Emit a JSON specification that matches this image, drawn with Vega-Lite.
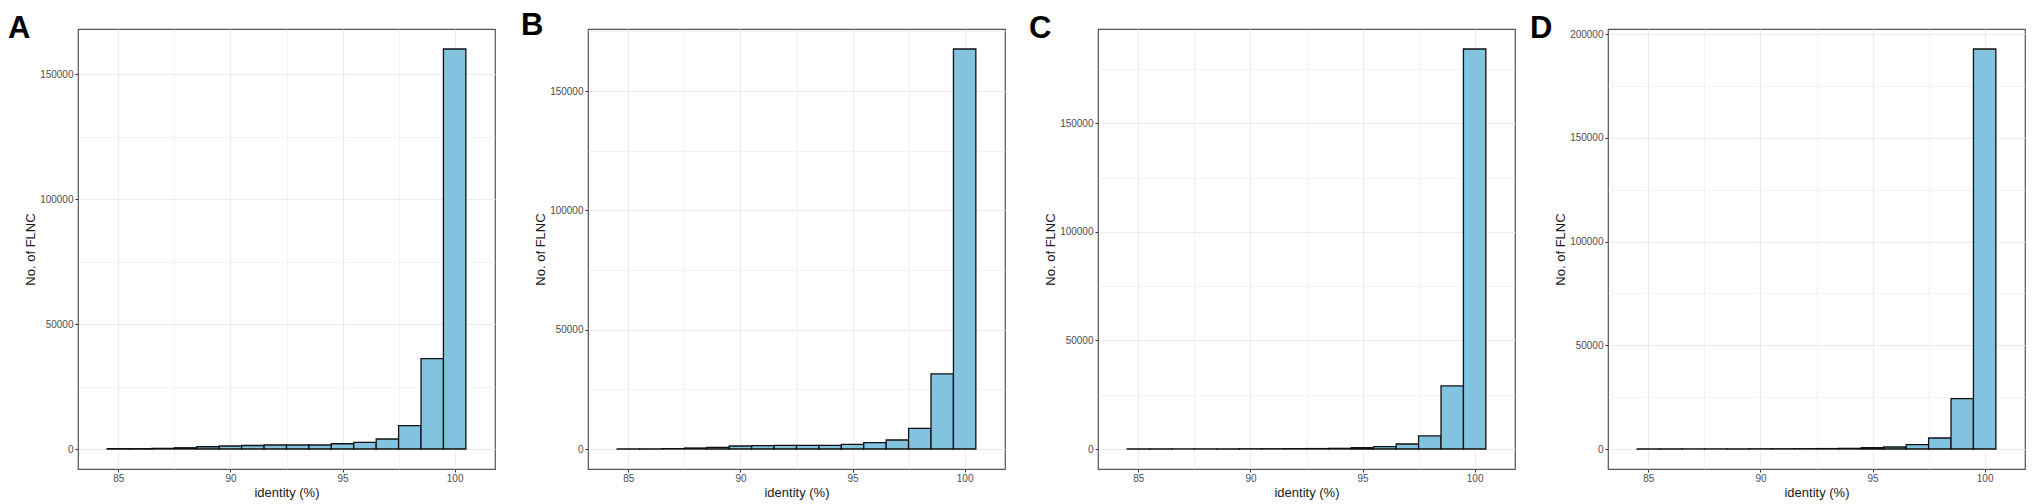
{
  "$schema": "https://vega.github.io/schema/vega-lite/v6.json",
  "background": "white",
  "padding": {"left": 7, "top": 9, "right": 3, "bottom": 5},
  "bounds": "flush",
  "spacing": 93,
  "datasets": {
    "A": [
      {"lo": 84.5, "hi": 85.5, "n": 100},
      {"lo": 85.5, "hi": 86.5, "n": 120},
      {"lo": 86.5, "hi": 87.5, "n": 250},
      {"lo": 87.5, "hi": 88.5, "n": 500},
      {"lo": 88.5, "hi": 89.5, "n": 900},
      {"lo": 89.5, "hi": 90.5, "n": 1200},
      {"lo": 90.5, "hi": 91.5, "n": 1400},
      {"lo": 91.5, "hi": 92.5, "n": 1600},
      {"lo": 92.5, "hi": 93.5, "n": 1600},
      {"lo": 93.5, "hi": 94.5, "n": 1600},
      {"lo": 94.5, "hi": 95.5, "n": 2100},
      {"lo": 95.5, "hi": 96.5, "n": 2650},
      {"lo": 96.5, "hi": 97.5, "n": 4000},
      {"lo": 97.5, "hi": 98.5, "n": 9350},
      {"lo": 98.5, "hi": 99.5, "n": 36200},
      {"lo": 99.5, "hi": 100.5, "n": 160100}
    ],
    "B": [
      {"lo": 84.5, "hi": 85.5, "n": 60},
      {"lo": 85.5, "hi": 86.5, "n": 80},
      {"lo": 86.5, "hi": 87.5, "n": 150},
      {"lo": 87.5, "hi": 88.5, "n": 420},
      {"lo": 88.5, "hi": 89.5, "n": 700},
      {"lo": 89.5, "hi": 90.5, "n": 1260},
      {"lo": 90.5, "hi": 91.5, "n": 1400},
      {"lo": 91.5, "hi": 92.5, "n": 1540},
      {"lo": 92.5, "hi": 93.5, "n": 1540},
      {"lo": 93.5, "hi": 94.5, "n": 1540},
      {"lo": 94.5, "hi": 95.5, "n": 1960},
      {"lo": 95.5, "hi": 96.5, "n": 2660},
      {"lo": 96.5, "hi": 97.5, "n": 3780},
      {"lo": 97.5, "hi": 98.5, "n": 8600},
      {"lo": 98.5, "hi": 99.5, "n": 31500},
      {"lo": 99.5, "hi": 100.5, "n": 167600}
    ],
    "C": [
      {"lo": 84.5, "hi": 85.5, "n": 30},
      {"lo": 85.5, "hi": 86.5, "n": 40},
      {"lo": 86.5, "hi": 87.5, "n": 50},
      {"lo": 87.5, "hi": 88.5, "n": 60},
      {"lo": 88.5, "hi": 89.5, "n": 80},
      {"lo": 89.5, "hi": 90.5, "n": 100},
      {"lo": 90.5, "hi": 91.5, "n": 120},
      {"lo": 91.5, "hi": 92.5, "n": 150},
      {"lo": 92.5, "hi": 93.5, "n": 200},
      {"lo": 93.5, "hi": 94.5, "n": 300},
      {"lo": 94.5, "hi": 95.5, "n": 600},
      {"lo": 95.5, "hi": 96.5, "n": 1080},
      {"lo": 96.5, "hi": 97.5, "n": 2300},
      {"lo": 97.5, "hi": 98.5, "n": 6000},
      {"lo": 98.5, "hi": 99.5, "n": 29100},
      {"lo": 99.5, "hi": 100.5, "n": 184200}
    ],
    "D": [
      {"lo": 84.5, "hi": 85.5, "n": 30},
      {"lo": 85.5, "hi": 86.5, "n": 40},
      {"lo": 86.5, "hi": 87.5, "n": 50},
      {"lo": 87.5, "hi": 88.5, "n": 60},
      {"lo": 88.5, "hi": 89.5, "n": 80},
      {"lo": 89.5, "hi": 90.5, "n": 100},
      {"lo": 90.5, "hi": 91.5, "n": 120},
      {"lo": 91.5, "hi": 92.5, "n": 150},
      {"lo": 92.5, "hi": 93.5, "n": 200},
      {"lo": 93.5, "hi": 94.5, "n": 300},
      {"lo": 94.5, "hi": 95.5, "n": 640},
      {"lo": 95.5, "hi": 96.5, "n": 970},
      {"lo": 96.5, "hi": 97.5, "n": 2100},
      {"lo": 97.5, "hi": 98.5, "n": 5300},
      {"lo": 98.5, "hi": 99.5, "n": 24300},
      {"lo": 99.5, "hi": 100.5, "n": 192900}
    ]
  },
  "hconcat": [
    {
      "width": 417,
      "height": 440,
      "title": {"text": "A", "dx": -70},
      "data": {"name": "A"},
      "mark": {"type": "bar", "fill": "#82c4e0", "stroke": "#111111", "strokeWidth": 1.3},
      "encoding": {
        "x": {"field": "lo", "type": "quantitative", "title": "identity (%)",
          "scale": {"domain": [83.2, 101.8], "nice": false, "zero": false},
          "axis": {"values": [85, 87.5, 90, 92.5, 95, 97.5, 100]}},
        "x2": {"field": "hi"},
        "y": {"field": "n", "type": "quantitative", "title": "No. of FLNC",
          "scale": {"domain": [-8005, 168105], "nice": false, "zero": false},
          "axis": {"values": [0, 25000, 50000, 75000, 100000, 125000, 150000]}},
        "y2": {"datum": 0}
      }
    },
    {
      "width": 417,
      "height": 440,
      "title": {"text": "B", "dx": -67},
      "data": {"name": "B"},
      "mark": {"type": "bar", "fill": "#82c4e0", "stroke": "#111111", "strokeWidth": 1.3},
      "encoding": {
        "x": {"field": "lo", "type": "quantitative", "title": "identity (%)",
          "scale": {"domain": [83.2, 101.8], "nice": false, "zero": false},
          "axis": {"values": [85, 87.5, 90, 92.5, 95, 97.5, 100]}},
        "x2": {"field": "hi"},
        "y": {"field": "n", "type": "quantitative", "title": "No. of FLNC",
          "scale": {"domain": [-8380, 175980], "nice": false, "zero": false},
          "axis": {"values": [0, 25000, 50000, 75000, 100000, 125000, 150000, 175000]}},
        "y2": {"datum": 0}
      }
    },
    {
      "width": 417,
      "height": 440,
      "title": {"text": "C", "dx": -69},
      "data": {"name": "C"},
      "mark": {"type": "bar", "fill": "#82c4e0", "stroke": "#111111", "strokeWidth": 1.3},
      "encoding": {
        "x": {"field": "lo", "type": "quantitative", "title": "identity (%)",
          "scale": {"domain": [83.2, 101.8], "nice": false, "zero": false},
          "axis": {"values": [85, 87.5, 90, 92.5, 95, 97.5, 100]}},
        "x2": {"field": "hi"},
        "y": {"field": "n", "type": "quantitative", "title": "No. of FLNC",
          "scale": {"domain": [-9210, 193410], "nice": false, "zero": false},
          "axis": {"values": [0, 25000, 50000, 75000, 100000, 125000, 150000, 175000]}},
        "y2": {"datum": 0}
      }
    },
    {
      "width": 417,
      "height": 440,
      "title": {"text": "D", "dx": -78},
      "data": {"name": "D"},
      "mark": {"type": "bar", "fill": "#82c4e0", "stroke": "#111111", "strokeWidth": 1.3},
      "encoding": {
        "x": {"field": "lo", "type": "quantitative", "title": "identity (%)",
          "scale": {"domain": [83.2, 101.8], "nice": false, "zero": false},
          "axis": {"values": [85, 87.5, 90, 92.5, 95, 97.5, 100]}},
        "x2": {"field": "hi"},
        "y": {"field": "n", "type": "quantitative", "title": "No. of FLNC",
          "scale": {"domain": [-9645, 202545], "nice": false, "zero": false},
          "axis": {"values": [0, 25000, 50000, 75000, 100000, 125000, 150000, 175000, 200000]}},
        "y2": {"datum": 0}
      }
    }
  ],
  "config": {
    "font": "Liberation Sans",
    "view": {"stroke": "#555555", "strokeWidth": 1.2},
    "title": {
      "anchor": "start",
      "frame": "group",
      "fontSize": 31,
      "fontWeight": "bold",
      "color": "#000000",
      "baseline": "alphabetic",
      "offset": -16
    },
    "axis": {
      "domain": false,
      "grid": true,
      "gridColor": "#ebebeb",
      "gridWidth": {"condition": {"test": "datum.value % 5 != 0 && datum.value < 1000 || datum.value % 50000 != 0 && datum.value >= 1000", "value": 0.6}, "value": 1.1},
      "tickColor": "#333333",
      "tickSize": 3,
      "tickOpacity": {"condition": {"test": "datum.value % 5 != 0 && datum.value < 1000 || datum.value % 50000 != 0 && datum.value >= 1000", "value": 0}, "value": 1},
      "labelExpr": "(datum.value < 1000 ? datum.value % 5 == 0 : datum.value % 50000 == 0) ? format(datum.value, 'd') : ''",
      "labelFont": "Liberation Sans",
      "labelFontSize": 10,
      "labelColor": "#4d4d4d",
      "labelPadding": 2,
      "titleFont": "Liberation Sans",
      "titleFontSize": 13,
      "titleFontWeight": "normal",
      "titleColor": "#1a1a1a"
    },
    "axisX": {"titlePadding": 3, "labelPadding": 1},
    "axisY": {"titlePadding": 2, "labelOverlap": false}
  }
}
